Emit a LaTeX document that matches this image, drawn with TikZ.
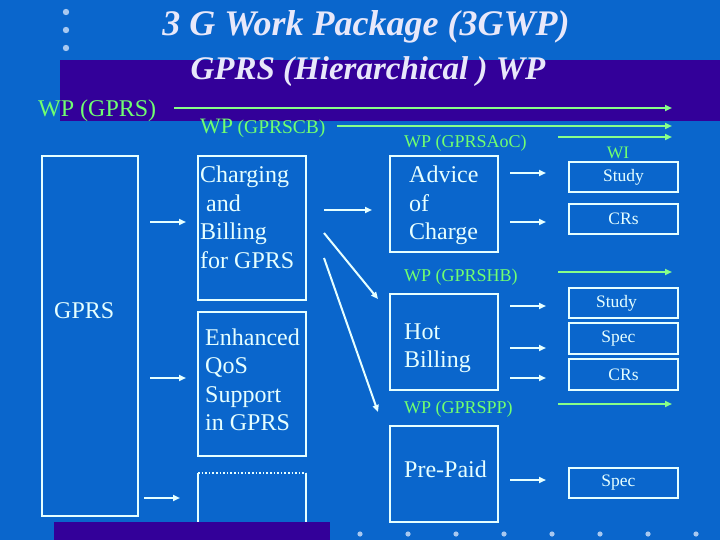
\documentclass[tikz,border=0pt]{standalone}
\usepackage{fontspec}
\setmainfont{Liberation Serif}
\usetikzlibrary{arrows.meta}
\definecolor{bg}{HTML}{0A66CC}
\definecolor{band}{HTML}{330099}
\definecolor{ln}{HTML}{E6FFFF}
\definecolor{gr}{HTML}{70FF70}
\definecolor{garr}{HTML}{88FF88}
\definecolor{ttl}{HTML}{E8E8FA}
\definecolor{dotc}{HTML}{A8C8F0}
\begin{document}
\begin{tikzpicture}[x=1pt,y=-1pt,
  box/.style={draw=ln, line width=2pt, inner sep=0pt},
  arr/.style={draw=ln, line width=2pt, -{Triangle[length=7pt,width=6pt]}},
  garrow/.style={draw=garr, line width=2pt, -{Triangle[length=7pt,width=6pt]}},
  big/.style={text=ln, font=\fontsize{24}{28.5}\selectfont, align=left, inner sep=0pt, anchor=base west},
  wp/.style={text=gr, font=\fontsize{18}{20}\selectfont, inner sep=0pt, anchor=base west},
  small/.style={text=ln, font=\fontsize{17.5}{20}\selectfont},
  ttlstyle/.style={text=ttl, font=\fontsize{36}{40}\bfseries\itshape\selectfont, inner sep=0pt, anchor=base},
  substyle/.style={text=ttl, font=\fontsize{33}{36}\bfseries\itshape\selectfont, inner sep=0pt, anchor=base},
  dotst/.style={fill=dotc}
  ]
\useasboundingbox (0,0) rectangle (720,540);
\fill[bg] (0,0) rectangle (720,540);
\fill[band] (60,60) rectangle (720,121);
% dots
\foreach \yy in {12,30,48} \fill[dotst] (66,\yy) circle (3.2pt);
\foreach \xx in {360,408,...,696} \fill[dotst] (\xx,534) circle (2.6pt);
% titles
\node[ttlstyle] (title) at (366,36) {3 G Work Package (3GWP)};
\node[substyle] (subtitle) at (368,80) {GPRS (Hierarchical ) WP};
% WP labels and green arrows
\node[wp, font=\fontsize{24}{26}\selectfont] (wpgprs) at (38,117) {WP (GPRS)};
\node[wp] (wpcb) at (200,134) {{\fontsize{22}{24}\selectfont WP} {\fontsize{19.5}{22}\selectfont (GPRSCB)}};
\node[wp] (wpaoc) at (404,148) {WP (GPRSAoC)};
\node[wp] (wphb) at (404,281) {WP (GPRSHB)};
\node[wp] (wppp) at (404,413) {WP (GPRSPP)};
\node[wp, font=\fontsize{17.5}{20}\selectfont, anchor=base] (wi) at (618,159) {WI};
\coordinate (g1s) at (174,108); \coordinate (g1e) at (672,108);
\coordinate (g2s) at (337,126); \coordinate (g2e) at (672,126);
\coordinate (g3s) at (558,137); \coordinate (g3e) at (672,137);
\coordinate (g4s) at (558,272); \coordinate (g4e) at (672,272);
\coordinate (g5s) at (558,404); \coordinate (g5e) at (672,404);
\foreach \g in {1,...,5} \draw[garrow] (g\g s) -- (g\g e);
% boxes
\node[box, minimum width=96pt, minimum height=360pt] (gprs) at (90,336) {};
\node[box, minimum width=108pt, minimum height=144pt] (cb) at (252,228) {};
\node[box, minimum width=108pt, minimum height=144pt] (qos) at (252,384) {};
\node[box, minimum width=108pt, minimum height=96pt] (aoc) at (444,204) {};
\node[box, minimum width=108pt, minimum height=96pt] (hb) at (444,342) {};
\node[box, minimum width=108pt, minimum height=96pt] (pp) at (444,474) {};
\node[box, small, minimum width=109pt, minimum height=30pt] (study1) at (623.5,177) {Study};
\node[box, small, minimum width=109pt, minimum height=30pt] (crs1) at (623.5,219) {CRs};
\node[box, small, minimum width=109pt, minimum height=30pt] (study2) at (623.5,303) {\hspace*{-14pt}Study};
\node[box, small, minimum width=109pt, minimum height=31pt] (spec2) at (623.5,338.5) {\hspace*{-10pt}Spec};
\node[box, small, minimum width=109pt, minimum height=31pt] (crs2) at (623.5,374.5) {CRs};
\node[box, small, minimum width=109pt, minimum height=30pt] (spec3) at (623.5,483) {\hspace*{-10pt}Spec};
% partial dotted box
\draw[ln, line width=2pt] (198,540) -- (198,473);
\draw[ln, line width=2pt] (306,540) -- (306,473);
\draw[ln, line width=1.6pt, dotted] (198,473) -- (306,473);
% box texts (base = last line)
\node[big] (tgprs) at (54,318) {GPRS};
\node[big] (tcb) at (200,268.5) {Charging\\ \ and\\Billing\\for GPRS};
\node[big] (tqos) at (205,430.5) {Enhanced\\QoS\\Support\\in GPRS};
\node[big] (taoc) at (409,240) {Advice\\of\\Charge};
\node[big] (thb) at (404,367.5) {Hot\\Billing};
\node[big] (tpp) at (404,477) {Pre-Paid};
% white arrows
\coordinate (a1s) at (150,222); \coordinate (a1e) at (186,222);
\coordinate (a2s) at (150,378); \coordinate (a2e) at (186,378);
\coordinate (a3s) at (144,498); \coordinate (a3e) at (180,498);
\coordinate (a4s) at (324,210); \coordinate (a4e) at (372,210);
\coordinate (a5s) at (324,233); \coordinate (a5e) at (378,299);
\coordinate (a6s) at (324,258); \coordinate (a6e) at (378,412);
\coordinate (a7s) at (510,173); \coordinate (a7e) at (546,173);
\coordinate (a8s) at (510,222); \coordinate (a8e) at (546,222);
\coordinate (a9s) at (510,306); \coordinate (a9e) at (546,306);
\coordinate (a10s) at (510,348); \coordinate (a10e) at (546,348);
\coordinate (a11s) at (510,378); \coordinate (a11e) at (546,378);
\coordinate (a12s) at (510,480); \coordinate (a12e) at (546,480);
\foreach \a in {1,...,12} \draw[arr] (a\a s) -- (a\a e);
% bottom band
\fill[band] (54,522) rectangle (330,540);
\end{tikzpicture}
\end{document}
